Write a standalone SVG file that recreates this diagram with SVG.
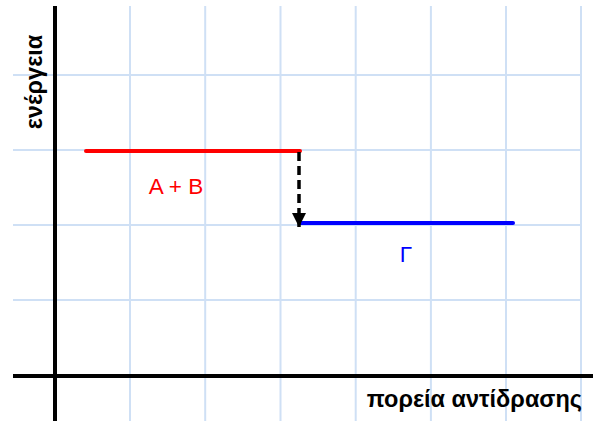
<svg xmlns="http://www.w3.org/2000/svg" width="593" height="421" viewBox="0 0 593 421">
<style>
.grid{stroke:#cfe0f5;stroke-width:2;fill:none}
.axis{stroke:#000;stroke-width:4;fill:none}
.lbl{font-family:"Liberation Sans",Arial,sans-serif;font-weight:bold;font-size:23.5px;fill:#000}
.sp{font-family:"Liberation Sans",Arial,sans-serif;font-size:22.5px}
</style>
<defs>
<marker id="ah" viewBox="0 0 10 10" refX="10" refY="5" markerWidth="4" markerHeight="4" orient="auto" markerUnits="strokeWidth">
<path d="M0,0 L10,5 L0,10 z" fill="#000"/>
</marker>
</defs>
<rect width="593" height="421" fill="#fff"/>
<g id="grid">
<path class="grid" d="M130,6V421 M205.2,6V421 M280.5,6V421 M355.7,6V421 M430.9,6V421 M506,6V421 M581,6V421"/>
<path class="grid" d="M13,75H581 M13,150H581 M13,225H581 M13,300H581"/>
</g>
<g id="axes">
<path class="axis" d="M55,6V421"/>
<path class="axis" d="M13,376H593"/>
<text class="lbl" transform="translate(42,82) rotate(-90)" text-anchor="middle">ενέργεια</text>
<text class="lbl" x="582" y="407" text-anchor="end">πορεία αντίδρασης</text>
</g>
<g id="reactants">
<path d="M86,151H300" stroke="#ff0000" stroke-width="4" stroke-linecap="round"/>
<text class="sp" x="176" y="194" text-anchor="middle" fill="#ff0000">A + B</text>
</g>
<g id="product">
<path d="M300,223H513" stroke="#0000ff" stroke-width="4" stroke-linecap="round"/>
<text class="sp" x="406" y="262" text-anchor="middle" fill="#0000ff">Γ</text>
</g>
<g id="connectors">
<path d="M299,152V227" stroke="#000" stroke-width="3.5" stroke-dasharray="9,5" marker-end="url(#ah)"/>
</g>
</svg>
